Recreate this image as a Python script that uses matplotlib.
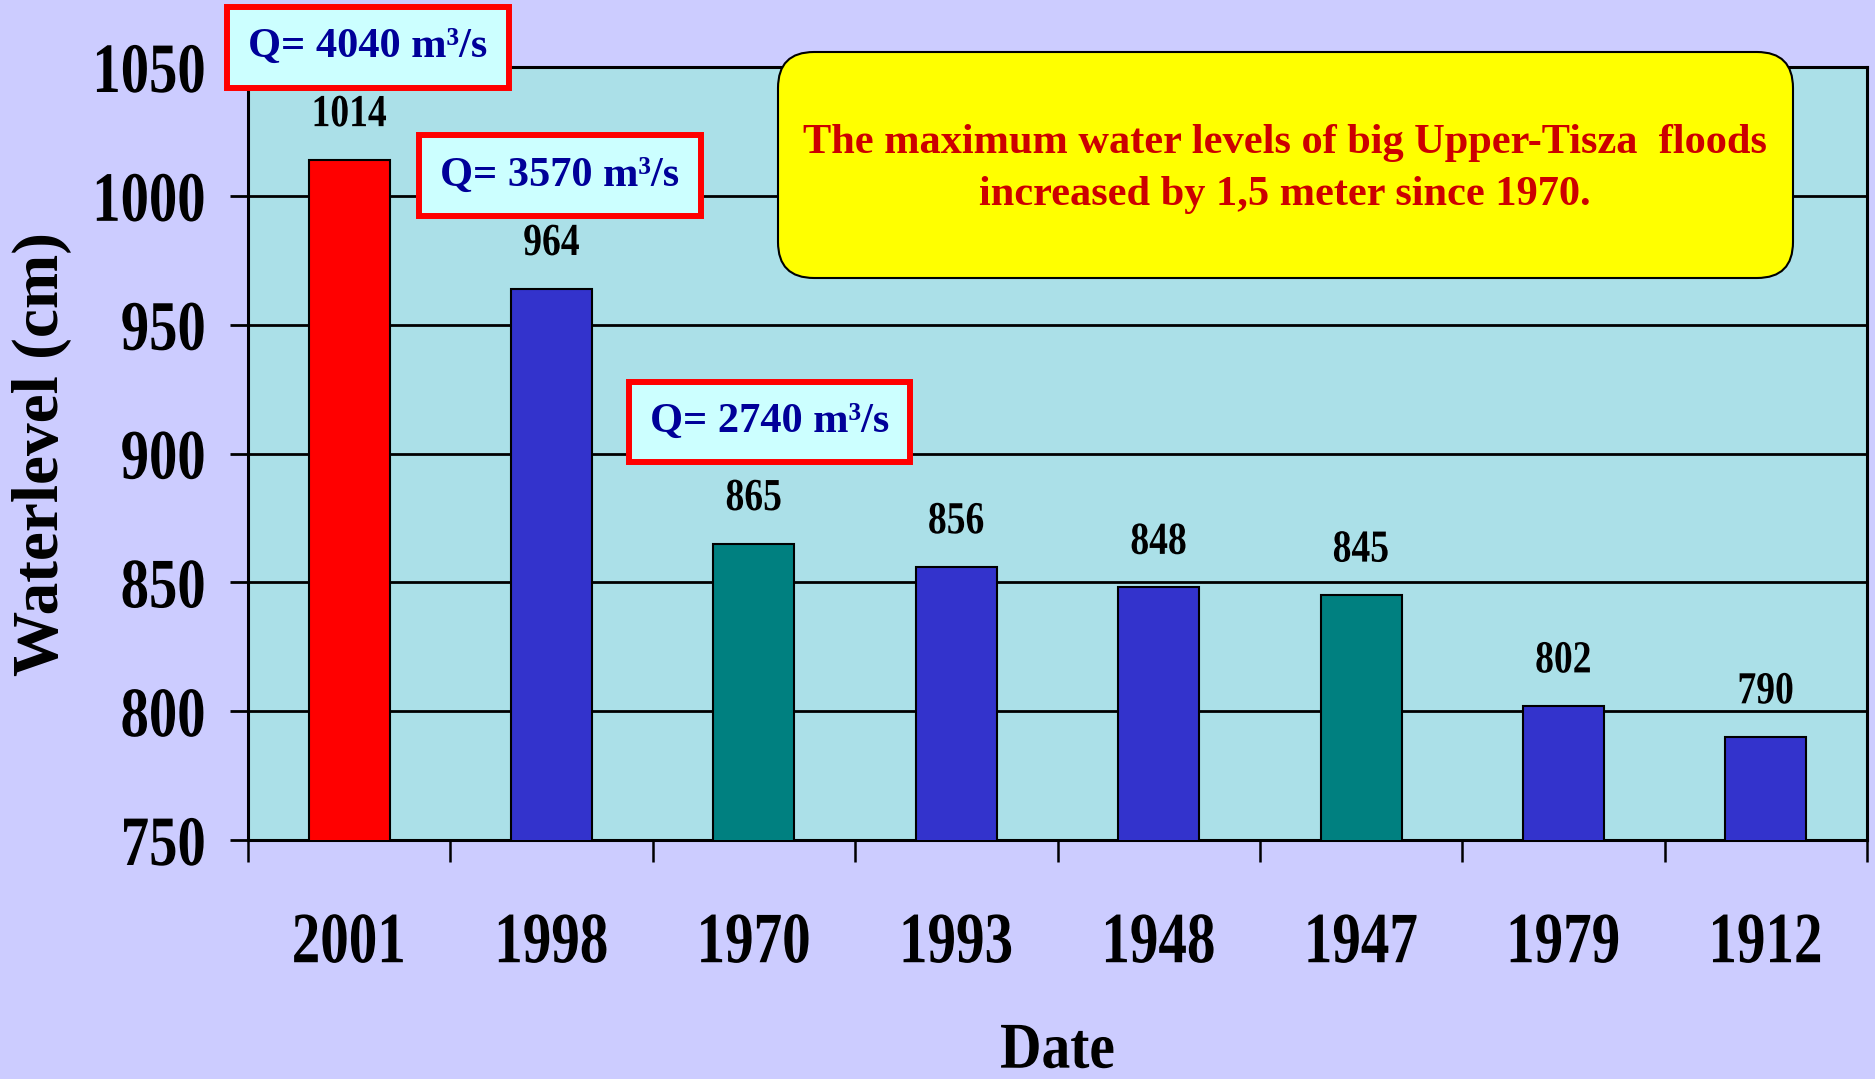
#!/usr/bin/python3

import numpy as np
import matplotlib
matplotlib.use('Agg')
import matplotlib.pyplot as plt
from matplotlib import patheffects
from matplotlib.patches import FancyBboxPatch
from matplotlib.transforms import Affine2D

# data
years = ['2001', '1998', '1970', '1993', '1948', '1947', '1979', '1912']
levels = [1014, 964, 865, 856, 848, 845, 802, 790]
bar_colors = ['#FF0000', '#3333CC', '#008080', '#3333CC',
              '#3333CC', '#008080', '#3333CC', '#3333CC']
y_ticks = [750, 800, 850, 900, 950, 1000, 1050]
q_labels = ['Q= 4040 m³/s', 'Q= 3570 m³/s', 'Q= 2740 m³/s']
note = ('The maximum water levels of big Upper-Tisza  floods\n'
        'increased by 1,5 meter since 1970.')

serif = 'Liberation Serif'


# the chart text in the original is squeezed sideways, this narrows the glyphs
class Squeeze(patheffects.AbstractPathEffect):
    def __init__(self, sx=0.8, anchor=0.5):
        super().__init__()
        self.sx = sx
        self.anchor = anchor

    def draw_path(self, renderer, gc, tpath, affine, rgbFace=None):
        w = tpath.get_extents().x1
        t = Affine2D().scale(self.sx, 1.0).translate((1 - self.sx) * w * self.anchor, 0) + affine
        renderer.draw_path(gc, tpath, t, rgbFace)


fig = plt.figure(figsize=(18.75, 10.79), dpi=100, facecolor='#CCCCFF')
ax = fig.add_axes([248 / 1875, 1 - 840 / 1079, 1619 / 1875, 773 / 1079])
ax.set_facecolor('#ABE0E8')

x = np.arange(len(years))
bars = ax.bar(x, levels, width=0.4, color=bar_colors, edgecolor='black',
              linewidth=1.5, zorder=3)

ax.set_xlim(-0.5, len(years) - 0.5)
ax.set_ylim(750, 1050)
ax.set_yticks(y_ticks)
ax.yaxis.grid(True, color='black', linewidth=2)
ax.set_axisbelow(True)
for s in ax.spines.values():
    s.set_linewidth(2.2)

# ticks on category edges, labels in the middle
ax.set_xticks(np.arange(-0.5, len(years)), labels=[])
ax.set_xticks(x, labels=years, minor=True)
ax.tick_params(axis='x', which='major', length=16, width=1.8, direction='out')
ax.tick_params(axis='x', which='minor', length=0, pad=52)
ax.tick_params(axis='y', length=13, width=2, pad=17)

for lbl in ax.get_xticklabels(minor=True):
    lbl.set_fontsize(52)
    lbl.set_fontweight('bold')
    lbl.set_family(serif)
    lbl.set_path_effects([Squeeze(0.79, 0.5)])
for lbl in ax.get_yticklabels():
    lbl.set_fontsize(51)
    lbl.set_fontweight('bold')
    lbl.set_family(serif)
    lbl.set_path_effects([Squeeze(0.8, 1.0)])

vals = ax.bar_label(bars, labels=[str(v) for v in levels], padding=17,
                    fontsize=33, fontweight='bold', family=serif)
for t in vals:
    t.set_path_effects([Squeeze(0.82, 0.5)])

ax.set_ylabel('Waterlevel (cm)', fontsize=47, fontweight='bold', family=serif)
ax.yaxis.set_label_coords(-0.109, 0.5)
ax.set_xlabel('Date', fontsize=47, fontweight='bold', family=serif)
ax.xaxis.set_label_coords(0.5, -0.235)
ax.xaxis.label.set_path_effects([Squeeze(0.88, 0.5)])

# discharge boxes
q_pos = [(0.093, 1057.6), (1.041, 1007.9), (2.077, 912.2)]
for lab, (qx, qy) in zip(q_labels, q_pos):
    ax.text(qx, qy, lab, ha='center', va='center', fontsize=30.5,
            fontweight='bold', family=serif, color='#000099', zorder=6,
            clip_on=False,
            bbox=dict(boxstyle='square,pad=0.5', fc='#CCFFFF', ec='#FF0000', lw=4.3))

# yellow note
box = FancyBboxPatch((7.78, 8.01), 10.15, 2.26,
                     boxstyle='round,pad=0,rounding_size=0.36',
                     fc='#FFFF00', ec='black', lw=1.5,
                     transform=fig.dpi_scale_trans, zorder=7)
fig.add_artist(box)
fig.text(1285 / 1875, 1 - 169 / 1079, note, ha='center', va='center',
         fontsize=30.5, fontweight='bold', family=serif, color='#CC0000',
         linespacing=1.45, zorder=8)

fig.savefig('out.png', dpi=100, facecolor=fig.get_facecolor())
